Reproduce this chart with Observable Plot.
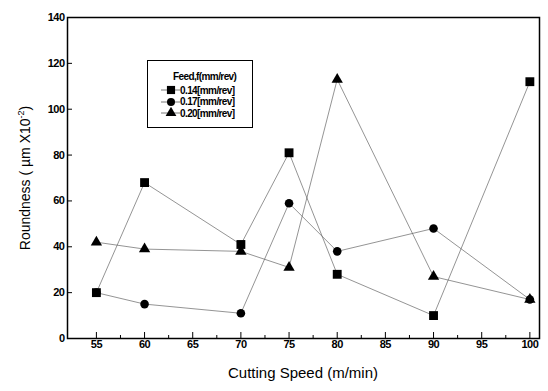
<!DOCTYPE html>
<html><head><meta charset="utf-8">
<script src="https://cdn.jsdelivr.net/npm/d3@7"></script>
<script src="https://cdn.jsdelivr.net/npm/@observablehq/plot@0.6"></script>
<style>
body{margin:0;background:#fff;}
#wrap{position:relative;width:548px;height:391px;font-family:"Liberation Sans",Arial,sans-serif;}
#legend{position:absolute;left:147px;top:60px;width:106px;height:68px;border:1.3px solid #000;box-sizing:border-box;background:#fff;font-weight:bold;font-size:10px;letter-spacing:-0.6px;line-height:11px;white-space:nowrap;}
</style></head>
<body><div id="wrap"></div>
<script>
const speeds = [55, 60, 70, 75, 80, 90, 100];
const feed014 = [20, 68, 41, 81, 28, 10, 112];
const feed017 = [20, 15, 11, 59, 38, 48, 17];
const feed020 = [42, 39, 38, 31, 113, 27, 17];
const seriesNames = ["0.14[mm/rev]", "0.17[mm/rev]", "0.20[mm/rev]"];
const seriesSymbols = ["square", "circle", "triangle"];
const seriesR = [5, 4.3, 4.2];
const xTicks = [55, 60, 65, 70, 75, 80, 85, 90, 95, 100];
const yTicks = [0, 20, 40, 60, 80, 100, 120, 140];

const seriesVals = [feed014, feed017, feed020];
const rows = [];
seriesVals.forEach((vals, i) => speeds.forEach((s, j) => rows.push({speed: s, value: vals[j], series: seriesNames[i]})));

const drawOrder = [1, 0, 2];
const marks = [
  Plot.frame({stroke: "#000", strokeWidth: 1.5}),
  Plot.axisX({ticks: xTicks, tickSize: -6, tickPadding: 8, label: null, fontSize: 11}),
  Plot.axisY({ticks: yTicks, tickSize: -5, tickPadding: 8, label: null, fontSize: 11}),
  Plot.axisX({ticks: d3.range(57.5, 100, 5), tickSize: -3, text: null, label: null}),
];
for (const i of drawOrder) {
  const d = rows.filter(r => r.series === seriesNames[i]);
  marks.push(Plot.line(d, {x: "speed", y: "value", stroke: "#666", strokeWidth: 0.7}));
}
for (const i of drawOrder) {
  const d = rows.filter(r => r.series === seriesNames[i]);
  marks.push(Plot.dot(d, {x: "speed", y: "value", symbol: () => seriesSymbols[i], r: seriesR[i], fill: "#000", stroke: "none"}));
}

const chart = Plot.plot({
  width: 548, height: 391,
  marginLeft: 67, marginRight: 9, marginTop: 17, marginBottom: 53,
  style: {fontFamily: "'Liberation Sans', Arial, sans-serif", color: "#000", background: "#fff"},
  x: {domain: [52, 101]},
  y: {domain: [0, 140]},
  marks
});
const svg = d3.select(chart);
svg.selectAll("g[aria-label$='tick label'] text").attr("font-weight", "bold").attr("letter-spacing", "-0.5");
svg.append("text").attr("x", 303).attr("y", 378).attr("text-anchor", "middle")
  .attr("font-size", 15).attr("font-family", "'Liberation Sans', Arial, sans-serif").text("Cutting Speed (m/min)");
const yl = svg.append("text").attr("transform", "translate(30,178) rotate(-90)").attr("text-anchor", "middle")
  .attr("font-size", 14).attr("font-family", "'Liberation Sans', Arial, sans-serif");
yl.append("tspan").text("Roundness ( \u00b5m X10");
yl.append("tspan").attr("dy", -6).attr("font-size", 9).text("-2");
yl.append("tspan").attr("dy", 6).text(")");
document.getElementById("wrap").appendChild(chart);

// legend
const leg = document.createElement("div");
leg.id = "legend";
let html = `<div style="position:absolute;left:25px;top:10px;">Feed,f(mm/rev)</div>`;
const legR = [4.6, 4, 4];
seriesNames.forEach((n, i) => {
  const cy = 29 + i * 11.6;
  const sym = d3.symbol().type(i===0?d3.symbolSquare:i===1?d3.symbolCircle:d3.symbolTriangle).size(Math.PI*legR[i]*legR[i])();
  html += `<svg style="position:absolute;left:12px;top:${cy-6}px" width="22" height="12"><line x1="1" x2="20" y1="6" y2="6" stroke="#555" stroke-width="0.8"/><path d="${sym}" transform="translate(11,6)" fill="#000"/></svg>`;
  html += `<div style="position:absolute;left:32px;top:${cy-5.5}px;">${n}</div>`;
});
leg.innerHTML = html;
document.getElementById("wrap").appendChild(leg);
</script></body></html>
